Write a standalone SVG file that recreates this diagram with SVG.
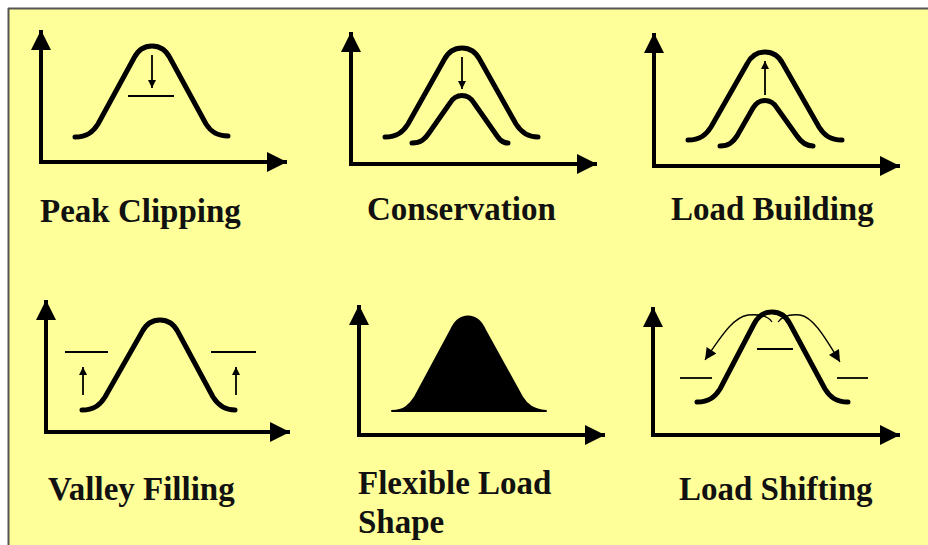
<svg xmlns="http://www.w3.org/2000/svg" width="928" height="545" viewBox="0 0 928 545">
<defs>
<marker id="big" viewBox="0 0 10 10" refX="10" refY="5" markerWidth="8" markerHeight="5" markerUnits="strokeWidth" orient="auto"><path d="M0,0 L10,5 L0,10 z" fill="#000"/></marker>
<marker id="small" viewBox="0 0 10 10" refX="10" refY="5" markerWidth="6" markerHeight="4.5" markerUnits="strokeWidth" orient="auto"><path d="M0,0 L10,5 L0,10 z" fill="#000"/></marker>
<marker id="thin" viewBox="0 0 10 10" refX="10" refY="5" markerWidth="12" markerHeight="9" markerUnits="strokeWidth" orient="auto"><path d="M0,0 L10,5 L0,10 z" fill="#000"/></marker>
</defs>
<style>
.axis{fill:none;stroke:#000;stroke-width:4;marker-end:url(#big)}
.curve{fill:none;stroke:#000;stroke-width:5;stroke-linecap:round;stroke-linejoin:round}
.lvl{stroke:#000;stroke-width:1.8}
.arr{fill:none;stroke:#000;stroke-width:1.8;marker-end:url(#small)}
.sarr{fill:none;stroke:#000;stroke-width:1.3;marker-end:url(#thin)}
.lbl{font-family:"Liberation Serif",serif;font-weight:bold;font-size:33px;fill:#111}
</style>
<rect x="0" y="0" width="928" height="545" fill="#fff"/>
<rect x="9" y="9" width="919" height="536" fill="#FFFF99"/>
<line x1="8" y1="8.5" x2="928" y2="8.5" stroke="#555" stroke-width="2"/>
<line x1="8.5" y1="8" x2="8.5" y2="545" stroke="#555" stroke-width="2"/>

<g id="peak-clipping">
<path class="axis" d="M41,162 V30"/>
<path class="axis" d="M39,162 H287"/>
<path class="curve" d="M75,137 C87,137 93,132 98,124 L134,58 C142,42 162,42 170,58 L206,124 C211,132 217,136 228,136"/>
<path class="arr" d="M152,55 V88"/>
<line class="lvl" x1="128" y1="96" x2="174" y2="96"/>
<text class="lbl" x="40" y="222">Peak Clipping</text>
</g>

<g id="conservation">
<path class="axis" d="M351,164 V32"/>
<path class="axis" d="M349,164 H597"/>
<path class="curve" d="M385,137 C397,137 403,132 408,124 L444,60 C452,44 472,44 480,60 L516,124 C521,132 527,137 538,137"/>
<path class="curve" d="M412,143 C421,143 425,139 429,133 L450,103 C456,93 468,93 474,103 L495,133 C499,139 502,143 508,143"/>
<path class="arr" d="M462,57 V89"/>
<text class="lbl" x="367" y="220">Conservation</text>
</g>

<g id="load-building">
<path class="axis" d="M654,166 V33"/>
<path class="axis" d="M652,166 H900"/>
<path class="curve" d="M688,140 C700,140 706,135 711,127 L747,64 C755,48 775,48 783,64 L819,127 C824,135 830,140 842,140"/>
<path class="curve" d="M720,146 C729,146 733,142 737,136 L753,108 C759,98 771,98 777,108 L797,136 C801,142 806,146 813,146"/>
<path class="arr" d="M765,95 V61"/>
<text class="lbl" x="671" y="220">Load Building</text>
</g>

<g id="valley-filling">
<path class="axis" d="M46,432 V300"/>
<path class="axis" d="M44,432 H290"/>
<path class="curve" d="M82,410 C94,410 100,405 105,397 L142,332 C150,316 170,316 178,332 L213,397 C218,405 224,410 235,410"/>
<line class="lvl" x1="65" y1="352" x2="108" y2="352"/>
<line class="lvl" x1="211" y1="352" x2="256" y2="352"/>
<path class="arr" d="M83,395 V367"/>
<path class="arr" d="M236,395 V367"/>
<text class="lbl" x="48" y="500">Valley Filling</text>
</g>

<g id="flexible-load-shape">
<path class="axis" d="M359,435 V305"/>
<path class="axis" d="M357,435 H605"/>
<path d="M392,411 C404,411 410,405 415,397 L451,330 C459,312 477,312 485,330 L522,397 C527,405 533,410 546,411 Z" fill="#000" stroke="#000" stroke-width="2" stroke-linejoin="round"/>
<text class="lbl" x="358" y="494">Flexible Load</text>
<text class="lbl" x="358" y="533">Shape</text>
</g>

<g id="load-shifting">
<path class="axis" d="M653,435 V307"/>
<path class="axis" d="M651,435 H900"/>
<path class="curve" d="M697,402 C709,402 715,397 720,389 L754,324 C762,308 782,308 790,324 L825,389 C830,397 836,402 848,402"/>
<line class="lvl" x1="680" y1="378" x2="712" y2="378"/>
<line class="lvl" x1="757" y1="349" x2="793" y2="349"/>
<line class="lvl" x1="837" y1="378" x2="868" y2="378"/>
<path class="sarr" d="M772,322 C768,316 760,314 748,315 C735,317 725,330 705,360"/>
<path class="sarr" d="M778,322 C782,316 790,314 800,315 C812,317 822,332 840,362"/>
<text class="lbl" x="679" y="500">Load Shifting</text>
</g>
</svg>
